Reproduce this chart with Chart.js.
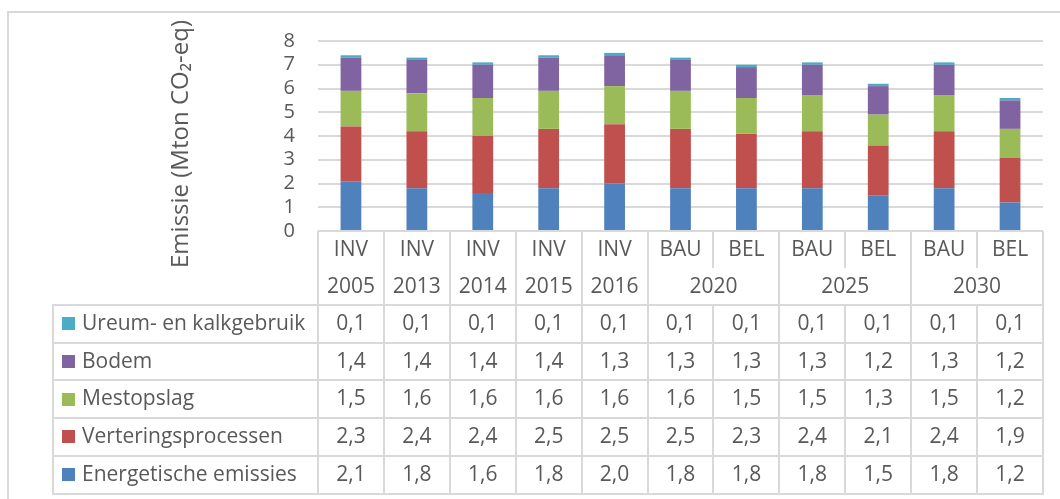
<!DOCTYPE html>
<html><head><meta charset="utf-8">
<script src="https://cdn.jsdelivr.net/npm/chart.js@4/dist/chart.umd.min.js"></script>
<style>html,body{margin:0;padding:0;background:#fff;overflow:hidden}#wrap{position:relative;width:1060px;height:499px}</style>
</head><body><div id="wrap"><canvas id="c" width="1060" height="499"></canvas></div>
<script>
// ---- data ----
const scenarios = ['INV','INV','INV','INV','INV','BAU','BEL','BAU','BEL','BAU','BEL'];
const years = ['2005','2013','2014','2015','2016','2020','2020','2025','2025','2030','2030'];
const energetische = [2.1,1.8,1.6,1.8,2.0,1.8,1.8,1.8,1.5,1.8,1.2];
const verterings   = [2.3,2.4,2.4,2.5,2.5,2.5,2.3,2.4,2.1,2.4,1.9];
const mestopslag   = [1.5,1.6,1.6,1.6,1.6,1.6,1.5,1.5,1.3,1.5,1.2];
const bodem        = [1.4,1.4,1.4,1.4,1.3,1.3,1.3,1.3,1.2,1.3,1.2];
const ureum        = [0.1,0.1,0.1,0.1,0.1,0.1,0.1,0.1,0.1,0.1,0.1];
const yTicks = [0,1,2,3,4,5,6,7,8];
const yTitle = 'Emissie (Mton CO\u2082-eq)';

const FONT = 'Open Sans';
const TXT = '#595959';
const LINE = '#d9d9d9';

const datasets = [
  {label:'Energetische emissies', data:energetische, backgroundColor:'#4F81BD'},
  {label:'Verteringsprocessen', data:verterings, backgroundColor:'#C0504D'},
  {label:'Mestopslag', data:mestopslag, backgroundColor:'#9BBB59'},
  {label:'Bodem', data:bodem, backgroundColor:'#8064A2'},
  {label:'Ureum- en kalkgebruik', data:ureum, backgroundColor:'#4BACC6'}
];

const fmt = v => v.toFixed(1).replace('.', ',');

const framePlugin = {
  id:'frame',
  beforeDraw(chart){
    const ctx = chart.ctx;
    ctx.save();
    ctx.strokeStyle = LINE; ctx.lineWidth = 2;
    ctx.beginPath();
    ctx.moveTo(8, 499); ctx.lineTo(8, 12); ctx.lineTo(1060, 12);
    ctx.stroke();
    // y-axis title
    ctx.fillStyle = TXT;
    ctx.font = '24px "' + FONT + '"';
    ctx.textAlign = 'center'; ctx.textBaseline = 'middle';
    ctx.translate(181, 144);
    ctx.rotate(-Math.PI/2);
    ctx.fillText(yTitle, 0, 0);
    ctx.restore();
  }
};

const tablePlugin = {
  id:'table',
  afterDraw(chart){
    const ctx = chart.ctx;
    const {left, right, bottom} = chart.chartArea;
    const xs = chart.scales.x;
    const n = scenarios.length;
    const colW = (right-left)/n;
    const edge = i => (i < n ? xs.getPixelForValue(i) - colW/2 : xs.getPixelForValue(n-1) + colW/2);
    const r1Bot = bottom + 37;
    const r2Bot = bottom + 74;
    const rowH = 37.7;
    const rows = datasets.slice().reverse();
    const tBot = r2Bot + rowH*rows.length;
    const hdrLeft = 53;

    ctx.save();
    ctx.strokeStyle = LINE; ctx.lineWidth = 2;
    ctx.beginPath();
    for (let i = 0; i <= n; i++) {
      const x = Math.round(edge(i));
      if (i > 0 && i < n && years[i-1] === years[i]) {
        ctx.moveTo(x, bottom); ctx.lineTo(x, r1Bot);
        ctx.moveTo(x, r2Bot); ctx.lineTo(x, tBot);
      } else {
        ctx.moveTo(x, bottom); ctx.lineTo(x, tBot);
      }
    }
    ctx.moveTo(hdrLeft, r2Bot); ctx.lineTo(hdrLeft, tBot);
    for (let k = 0; k <= rows.length; k++) {
      const y = Math.round(r2Bot + k*rowH);
      ctx.moveTo(hdrLeft-1, y); ctx.lineTo(Math.round(edge(n))+1, y);
    }
    ctx.stroke();

    ctx.fillStyle = TXT;
    ctx.font = '21px "' + FONT + '"';
    ctx.textAlign = 'center'; ctx.textBaseline = 'middle';
    for (let i = 0; i < n; i++) {
      ctx.fillText(scenarios[i], xs.getPixelForValue(i), bottom + 19);
    }
    let s = 0;
    while (s < n) {
      let e = s;
      while (e+1 < n && years[e+1] === years[s]) e++;
      const cx = (edge(s) + edge(e+1)) / 2;
      ctx.fillText(years[s], cx, bottom + 56);
      s = e+1;
    }
    rows.forEach((ds, k) => {
      const cy = r2Bot + k*rowH + rowH/2;
      ctx.fillStyle = ds.backgroundColor;
      ctx.fillRect(62, Math.round(cy-6.5), 13, 13);
      ctx.fillStyle = TXT;
      ctx.textAlign = 'left';
      ctx.fillText(ds.label, 82, cy);
      ctx.textAlign = 'center';
      ds.data.forEach((v, i) => ctx.fillText(fmt(v), xs.getPixelForValue(i), cy));
    });
    ctx.restore();
  }
};

new Chart(document.getElementById('c'), {
  type:'bar',
  data:{ labels: scenarios.map((s,i)=>s+' '+years[i]), datasets: datasets.map(d=>Object.assign({barPercentage:0.315, categoryPercentage:1, borderWidth:0}, d)) },
  options:{
    responsive:false, animation:false,
    layout:{padding:{left:160, top:41, right:17, bottom:268}},
    plugins:{legend:{display:false}, tooltip:{enabled:false}},
    scales:{
      x:{stacked:true, display:false},
      y:{
        stacked:true, min:0, max:8,
        afterBuildTicks(sc){ sc.ticks = yTicks.map(v=>({value:v})); },
        afterFit(sc){ sc.width = 158; },
        ticks:{padding:23, autoSkip:false, color:TXT, font:{family:FONT, size:20}},
        grid:{color:LINE, lineWidth:2, drawTicks:false},
        border:{display:false},
        title:{display:false}
      }
    }
  },
  plugins:[framePlugin, tablePlugin]
});
</script>
</body></html>
